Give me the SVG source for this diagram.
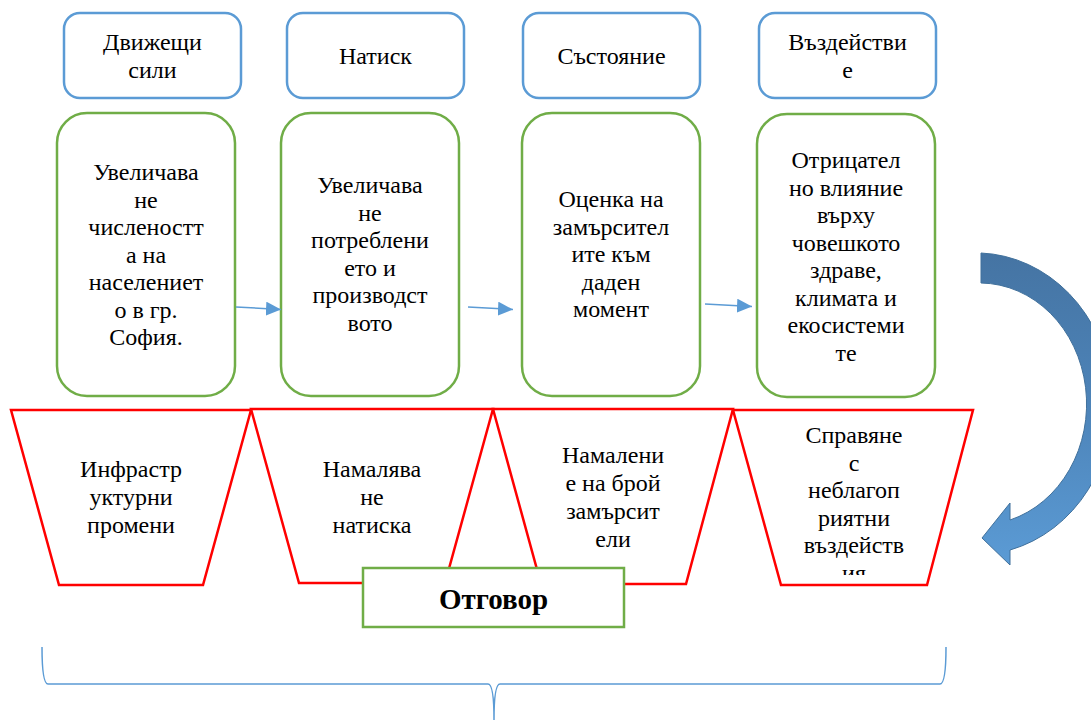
<svg xmlns="http://www.w3.org/2000/svg" width="1091" height="720" viewBox="0 0 1091 720">
<style>
.t{font-family:"Liberation Serif","Times New Roman",serif;font-size:24px;fill:#000;text-anchor:middle}
.blue{fill:#fff;stroke:#5b9bd5;stroke-width:2.5}
.green{fill:#fff;stroke:#70ad47;stroke-width:2.5}
.red{fill:#fff;stroke:#ff0000;stroke-width:2.5;stroke-linejoin:miter}
.conn{stroke:#5b9bd5;stroke-width:1.5;fill:none}
</style>
<defs>
<marker id="ah" viewBox="0 0 10 10" refX="10" refY="5" markerWidth="10" markerHeight="9.3" markerUnits="userSpaceOnUse" orient="auto">
<path d="M0,0 L10,5 L0,10 Z" fill="#5b9bd5"/>
</marker>
<marker id="ah2" viewBox="0 0 15 14" refX="15" refY="7" markerWidth="15" markerHeight="14" markerUnits="userSpaceOnUse" orient="auto">
<path d="M0,0 L15,7 L0,14 Z" fill="#5b9bd5"/>
</marker>
<linearGradient id="cg" x1="0" y1="253" x2="0" y2="565" gradientUnits="userSpaceOnUse">
<stop offset="0" stop-color="#4574a3"/>
<stop offset="0.5" stop-color="#4d84b9"/>
<stop offset="1" stop-color="#5b9bd5"/>
</linearGradient>
<clipPath id="c4"><rect x="733" y="409" width="240" height="166"/></clipPath>
</defs>

<g id="top-drivers"><rect class="blue" x="64" y="13" width="177" height="85" rx="16"/>
<text class="t" x="152.5" y="50">Движещи<tspan x="152.5" y="78">сили</tspan></text></g>
<g id="top-pressure"><rect class="blue" x="287" y="13" width="177" height="85" rx="16"/>
<text class="t" x="375.5" y="64">Натиск</text></g>
<g id="top-state"><rect class="blue" x="523" y="13" width="177" height="85" rx="16"/>
<text class="t" x="611.5" y="64">Състояние</text></g>
<g id="top-impact"><rect class="blue" x="759" y="13" width="177" height="85" rx="16"/>
<text class="t" x="847.5" y="50">Въздействи<tspan x="847.5" y="78">е</tspan></text></g>

<g id="g-drivers"><rect class="green" x="57" y="113" width="178" height="283" rx="30"/>
<text class="t"><tspan x="146" y="180">Увеличава</tspan><tspan x="146" y="207.5">не</tspan><tspan x="146" y="235">численостт</tspan><tspan x="146" y="262.5">а на</tspan><tspan x="146" y="290">населениет</tspan><tspan x="146" y="317.5">о в гр.</tspan><tspan x="146" y="345">София.</tspan></text></g>
<g id="g-pressure"><rect class="green" x="281" y="113" width="178" height="283" rx="30"/>
<text class="t"><tspan x="370" y="193">Увеличава</tspan><tspan x="370" y="220.5">не</tspan><tspan x="370" y="248">потреблени</tspan><tspan x="370" y="275.5">ето и</tspan><tspan x="370" y="303">производст</tspan><tspan x="370" y="330.5">вото</tspan></text></g>
<g id="g-state"><rect class="green" x="522" y="113" width="178" height="283" rx="30"/>
<text class="t"><tspan x="611" y="207">Оценка на</tspan><tspan x="611" y="234.5">замърсител</tspan><tspan x="611" y="262">ите към</tspan><tspan x="611" y="289.5">даден</tspan><tspan x="611" y="317">момент</tspan></text></g>
<g id="g-impact"><rect class="green" x="757" y="114" width="178" height="283" rx="30"/>
<text class="t"><tspan x="846" y="168">Отрицател</tspan><tspan x="846" y="195.5">но влияние</tspan><tspan x="846" y="223">върху</tspan><tspan x="846" y="250.5">човешкото</tspan><tspan x="846" y="278">здраве,</tspan><tspan x="846" y="305.5">климата и</tspan><tspan x="846" y="333">екосистеми</tspan><tspan x="846" y="360.5">те</tspan></text></g>

<g id="connectors">
<line class="conn" x1="236" y1="307" x2="281" y2="309.5" marker-end="url(#ah2)"/>
<line class="conn" x1="468" y1="307" x2="513" y2="309.5" marker-end="url(#ah2)"/>
<line class="conn" x1="705" y1="304" x2="752" y2="306.5" marker-end="url(#ah2)"/>
<path class="conn" d="M42,647 Q42,684 48,684 L488,684 Q494,684 494,720 Q494,684 500,684 L940,684 Q946,684 946,647" stroke-width="1.2"/>
</g>

<g id="r-infra"><polygon class="red" points="11,410 251,410 203,585 59,585"/>
<text class="t"><tspan x="131" y="477">Инфрастр</tspan><tspan x="131" y="505">уктурни</tspan><tspan x="131" y="533">промени</tspan></text></g>
<g id="r-reduce"><polygon class="red" points="251,409 493,409 445,583 299,583"/>
<text class="t"><tspan x="372" y="477">Намалява</tspan><tspan x="372" y="505">не</tspan><tspan x="372" y="533">натиска</tspan></text></g>
<g id="r-pollut"><polygon class="red" points="493,409 733,409 686,584 541,584"/>
<text class="t"><tspan x="613" y="463">Намалени</tspan><tspan x="613" y="491">е на брой</tspan><tspan x="613" y="519">замърсит</tspan><tspan x="613" y="547">ели</tspan></text></g>
<g id="r-cope"><polygon class="red" points="733,410 973,410 927,585 781,585"/>
<text class="t" clip-path="url(#c4)"><tspan x="854" y="443">Справяне</tspan><tspan x="854" y="470.5">с</tspan><tspan x="854" y="498">неблагоп</tspan><tspan x="854" y="525.5">риятни</tspan><tspan x="854" y="553">въздейств</tspan><tspan x="854" y="580.5">ия</tspan></text></g>

<g id="response"><rect class="green" x="363" y="568" width="261" height="59"/>
<text class="t" x="493.5" y="609" style="font-weight:bold;font-size:29px">Отговор</text></g>

<g id="curved-arrow"><path d="M981,253 A137,151 0 0 1 1010,550 L1010,565 L982,538 L1010,503 L1010,520 A107,121 0 0 0 981,283 Z" fill="url(#cg)" stroke="#41719c" stroke-width="1"/></g>
</svg>
